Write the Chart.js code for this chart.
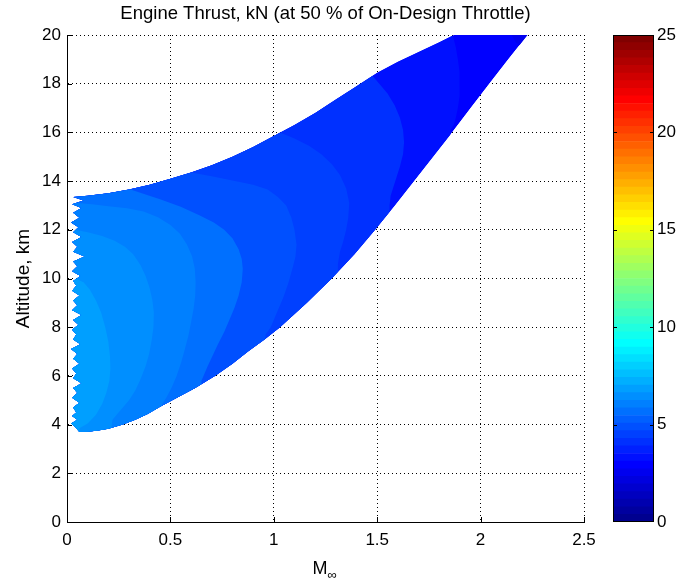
<!DOCTYPE html>
<html>
<head>
<meta charset="utf-8">
<title>Engine Thrust</title>
<script src="https://cdn.jsdelivr.net/npm/chart.js@4.4.0/dist/chart.umd.min.js"></script>
<style>
  html, body { margin: 0; padding: 0; background: #fff; }
  #wrap { position: relative; width: 681px; height: 581px; overflow: hidden; }
  #thrustChart { position: absolute; left: 0; top: 0; }
  #barChart { position: absolute; left: 590px; top: 0; }
</style>
</head>
<body>
<div id="wrap">
  <canvas id="thrustChart" width="681" height="581"></canvas>
  <canvas id="barChart" width="91" height="581"></canvas>
</div>
<script>
// Axis ticks
const machTicks = [0, 0.5, 1, 1.5, 2, 2.5];
const altTicks = [0, 2, 4, 6, 8, 10, 12, 14, 16, 18, 20];
const thrustTicks = [0, 5, 10, 15, 20, 25];

// Contour levels (kN) of the filled bands, innermost first
const bandLevels = [7.0, 6.5, 6.0, 5.5, 5.0, 4.5, 4.0, 3.5];
const baseLevel = 3.0;   // right-hand part of the envelope
const tipLevel = 2.5;    // small corner at the top right

// Flight envelope: upper edge (left to right)
const envTopMach = [0.03, 0.1, 0.2, 0.3, 0.4, 0.5, 0.6, 0.7, 0.8, 0.9, 1.0, 1.1, 1.2, 1.3, 1.4, 1.5, 1.6, 1.7, 1.8, 1.87, 2.227];
const envTopAlt  = [13.35, 13.4, 13.5, 13.65, 13.85, 14.1, 14.35, 14.65, 15.0, 15.4, 15.85, 16.3, 16.8, 17.35, 17.9, 18.45, 18.9, 19.3, 19.7, 20.0, 20.0];
// lower edge (right to left)
const envLowMach = [2.134, 2.042, 1.952, 1.862, 1.77, 1.678, 1.585, 1.49, 1.39, 1.28, 1.16, 1.03, 0.955, 0.875, 0.8, 0.715, 0.62, 0.52, 0.45, 0.39, 0.33, 0.27, 0.2, 0.15, 0.1, 0.06];
const envLowAlt  = [19.0, 18.0, 17.0, 16.0, 15.0, 14.0, 13.0, 12.0, 11.0, 10.0, 9.0, 8.0, 7.5, 7.0, 6.5, 6.0, 5.5, 5.05, 4.73, 4.44, 4.2, 4.0, 3.83, 3.755, 3.71, 3.7];
// ragged low-speed edge (bottom to top)
const envLeftMach = [0.04, 0.02, 0.05, 0.025, 0.045, 0.03, 0.06, 0.025, 0.05, 0.03,
                     0.07, 0.03, 0.045, 0.025, 0.06, 0.03, 0.05, 0.02, 0.065, 0.03,
                     0.045, 0.025, 0.055, 0.03, 0.07, 0.025, 0.05, 0.03, 0.06, 0.025,
                     0.045, 0.03, 0.065, 0.025, 0.05, 0.03, 0.085, 0.03, 0.05, 0.025,
                     0.07, 0.03, 0.055, 0.02, 0.06, 0.03, 0.07, 0.025, 0.08];
const envLeftAlt  = [3.9, 4.05, 4.2, 4.35, 4.5, 4.7, 4.9, 5.1, 5.3, 5.5,
                     5.7, 5.9, 6.1, 6.3, 6.5, 6.7, 6.9, 7.1, 7.3, 7.5,
                     7.7, 7.9, 8.1, 8.3, 8.5, 8.7, 8.9, 9.1, 9.3, 9.5,
                     9.7, 9.9, 10.1, 10.3, 10.5, 10.7, 10.9, 11.1, 11.3, 11.5,
                     11.7, 11.9, 12.1, 12.3, 12.5, 12.7, 12.9, 13.05, 13.2];

// Contour lines, top end to bottom end
const c1Mach = [-0.1, 0.04, 0.08, 0.11, 0.14, 0.165, 0.185, 0.2, 0.208, 0.21, 0.205, 0.19, 0.17, 0.14, 0.1, 0.06, 0.05];
const c1Alt  = [10.0, 10.0, 9.85, 9.55, 9.1, 8.6, 8.0, 7.4, 6.8, 6.3, 5.8, 5.3, 4.85, 4.4, 4.05, 3.85, 3.0];
const c2Mach = [-0.1, 0.04, 0.1, 0.17, 0.23, 0.28, 0.32, 0.355, 0.38, 0.4, 0.413, 0.42, 0.418, 0.41, 0.397, 0.38, 0.355, 0.33, 0.3, 0.27, 0.24, 0.22, 0.2];
const c2Alt  = [12.0, 12.0, 11.9, 11.75, 11.55, 11.3, 11.0, 10.55, 10.1, 9.6, 9.1, 8.6, 8.0, 7.5, 6.9, 6.4, 5.85, 5.4, 5.0, 4.7, 4.4, 4.2, 3.0];
const c3Mach = [-0.1, 0.05, 0.12, 0.2, 0.29, 0.37, 0.44, 0.5, 0.545, 0.58, 0.605, 0.618, 0.622, 0.62, 0.612, 0.6, 0.587, 0.57, 0.552, 0.53, 0.505, 0.48, 0.46, 0.46];
const c3Alt  = [13.1, 13.1, 13.05, 12.97, 12.88, 12.75, 12.52, 12.2, 11.85, 11.4, 10.9, 10.4, 9.85, 9.3, 8.75, 8.2, 7.65, 7.1, 6.55, 6.0, 5.5, 5.1, 4.85, 3.0];
const c4Mach = [0.28, 0.3, 0.38, 0.45, 0.55, 0.64, 0.71, 0.76, 0.8, 0.83, 0.845, 0.85, 0.845, 0.83, 0.81, 0.785, 0.76, 0.73, 0.705, 0.68, 0.66, 0.65, 0.65];
const c4Alt  = [15.0, 13.68, 13.45, 13.25, 12.95, 12.6, 12.3, 12.0, 11.65, 11.2, 10.8, 10.4, 9.85, 9.3, 8.8, 8.3, 7.8, 7.3, 6.85, 6.4, 6.0, 5.8, 3.0];
const c5Mach = [0.6, 0.6, 0.7, 0.8, 0.9, 0.97, 1.02, 1.06, 1.085, 1.1, 1.11, 1.105, 1.09, 1.07, 1.045, 1.015, 0.985, 0.96, 0.96];
const c5Alt  = [16.0, 14.35, 14.2, 14.02, 13.85, 13.65, 13.35, 13.0, 12.5, 12.0, 11.4, 10.9, 10.4, 9.8, 9.2, 8.6, 8.0, 7.7, 3.0];
const c6Mach = [1.03, 1.03, 1.1, 1.17, 1.23, 1.28, 1.32, 1.35, 1.365, 1.36, 1.35, 1.335, 1.32, 1.31, 1.31];
const c6Alt  = [17.0, 16.0, 15.75, 15.45, 15.1, 14.7, 14.25, 13.7, 13.1, 12.5, 12.0, 11.5, 11.1, 10.6, 3.0];
const c7Mach = [1.46, 1.47, 1.51, 1.55, 1.585, 1.61, 1.625, 1.63, 1.625, 1.61, 1.595, 1.58, 1.565, 1.56, 1.56];
const c7Alt  = [19.5, 18.4, 18.0, 17.6, 17.1, 16.6, 16.1, 15.6, 15.1, 14.6, 14.2, 13.8, 13.4, 13.0, 3.0];
const c8Mach = [1.86, 1.865, 1.88, 1.89, 1.898, 1.9, 1.897, 1.89, 1.88, 1.87, 1.855, 1.855];
const c8Alt  = [21.0, 20.0, 19.5, 19.0, 18.5, 18.1, 17.5, 17.0, 16.6, 16.3, 16.1, 3.0];
// lowest-thrust corner
const tipMach = [2.14, 2.15, 2.17, 2.2, 3.0, 3.0];
const tipAlt  = [21.0, 20.0, 19.7, 19.5, 19.5, 21.0];

const contourMach = [c1Mach, c2Mach, c3Mach, c4Mach, c5Mach, c6Mach, c7Mach, c8Mach];
const contourAlt = [c1Alt, c2Alt, c3Alt, c4Alt, c5Alt, c6Alt, c7Alt, c8Alt];

const FONT = 'Liberation Sans';
Chart.defaults.font.family = FONT;
Chart.defaults.font.size = 17;
Chart.defaults.color = '#000';

// 64-entry jet colour map, as used for the colour axis 0..25 kN
function jetU(k) {
    if (k < 1 || k > 47) return 0;
    if (k <= 16) return k / 16;
    if (k <= 31) return 1;
    return (48 - k) / 16;
}
function jetRow(i) { // i = 1..64
    const r = Math.round(jetU(i - 24) * 255);
    const g = Math.round(jetU(i - 8) * 255);
    const b = Math.round(jetU(i + 8) * 255);
    return `rgb(${r},${g},${b})`;
}
function jetColor(v) {
    const i = Math.min(64, Math.max(1, Math.floor(v / 25 * 64) + 1));
    return jetRow(i);
}

function toPoints(mach, alt) {
    return mach.map((m, i) => ({ x: m, y: alt[i] }));
}
// region on the low-Mach side of a contour line
function leftRegion(mach, alt) {
    const pts = toPoints(mach, alt);
    pts.push({ x: mach[mach.length - 1], y: -1 }, { x: -1, y: -1 }, { x: -1, y: 21 }, { x: mach[0], y: 21 });
    return pts;
}

function bandDataset(points, level) {
    const color = jetColor(level);
    return {
        data: points,
        showLine: true,
        fill: 'shape',
        backgroundColor: color,
        borderColor: 'rgba(0,0,0,0)',
        borderWidth: 0,
        pointRadius: 0,
        tension: 0
    };
}

const envMach = envTopMach.concat(envLowMach, envLeftMach);
const envAlt = envTopAlt.concat(envLowAlt, envLeftAlt);

// innermost band first so it is painted last
const datasets = bandLevels.map((lvl, k) => bandDataset(leftRegion(contourMach[k], contourAlt[k]), lvl));
datasets.push(bandDataset(toPoints(tipMach, tipAlt), tipLevel));
datasets.push(bandDataset(toPoints(envMach, envAlt), baseLevel));

// keep the bands inside the flight envelope
const envelopeClip = {
    id: 'envelopeClip',
    beforeDatasetsDraw(chart) {
        const { ctx, scales: { x, y } } = chart;
        ctx.save();
        ctx.beginPath();
        envMach.forEach((m, i) => {
            const px = x.getPixelForValue(m);
            const py = y.getPixelForValue(envAlt[i]);
            if (i === 0) ctx.moveTo(px, py); else ctx.lineTo(px, py);
        });
        ctx.closePath();
        ctx.clip();
    },
    afterDatasetsDraw(chart) {
        chart.ctx.restore();
    }
};

// inward tick marks and the M-infinity label
const axisDecor = {
    id: 'axisDecor',
    afterDraw(chart) {
        const { ctx, scales: { x, y }, chartArea: a } = chart;
        ctx.save();
        ctx.strokeStyle = '#000';
        ctx.lineWidth = 1;
        ctx.beginPath();
        altTicks.forEach(v => {
            const py = Math.round(y.getPixelForValue(v)) + 0.5;
            ctx.moveTo(a.left, py);
            ctx.lineTo(a.left + 5, py);
        });
        machTicks.forEach(v => {
            const px = Math.round(x.getPixelForValue(v)) + 0.5;
            ctx.moveTo(px, a.bottom);
            ctx.lineTo(px, a.bottom - 5);
        });
        ctx.stroke();

        const cx = (a.left + a.right) / 2;
        ctx.fillStyle = '#000';
        ctx.textBaseline = 'alphabetic';
        ctx.textAlign = 'right';
        ctx.font = `18px "${FONT}"`;
        ctx.fillText('M', cx + 2, 574);
        ctx.textAlign = 'left';
        ctx.font = `13px "${FONT}"`;
        ctx.fillText('\u221E', cx + 2, 579);
        ctx.restore();
    }
};

new Chart(document.getElementById('thrustChart'), {
    type: 'scatter',
    data: { datasets },
    options: {
        responsive: false,
        animation: false,
        events: [],
        layout: { padding: { left: 0, right: 97, top: 0, bottom: 0 } },
        plugins: { legend: { display: false }, tooltip: { enabled: false } },
        scales: {
            x: {
                type: 'linear',
                min: 0,
                max: 2.5,
                afterBuildTicks: s => { s.ticks = machTicks.map(v => ({ value: v })); },
                afterFit: s => { s.height = 59; },
                ticks: { padding: 8, callback: v => String(v) },
                grid: { color: '#000', drawTicks: false },
                border: { color: '#000', width: 1, dash: [1, 3] }
            },
            xTop: {
                type: 'linear',
                axis: 'x',
                position: 'top',
                afterFit: s => { s.height = 35; },
                ticks: { display: false },
                grid: { display: false },
                border: { display: false },
                title: {
                    display: true,
                    text: 'Engine Thrust, kN (at 50 % of On-Design Throttle)',
                    font: { size: 18.5 },
                    padding: { top: 3, bottom: 0 }
                }
            },
            y: {
                type: 'linear',
                min: 0,
                max: 20,
                afterBuildTicks: s => { s.ticks = altTicks.map(v => ({ value: v })); },
                afterFit: s => { s.width = 67; },
                ticks: { padding: 6 },
                grid: { color: '#000', drawTicks: false },
                border: { color: '#000', width: 1, dash: [1, 3] },
                title: {
                    display: true,
                    text: 'Altitude, km',
                    font: { size: 19 },
                    padding: { top: 12, bottom: 0 }
                }
            }
        }
    },
    plugins: [envelopeClip, axisDecor]
});

// Colour bar: one floating bar per colour-map entry
const barSegments = Array.from({ length: 64 }, (_, i) => ({
    data: [[i * 25 / 64, (i + 1) * 25 / 64]],
    backgroundColor: jetRow(i + 1),
    borderWidth: 0,
    barPercentage: 1,
    categoryPercentage: 1,
    grouped: false
}));

const barFrame = {
    id: 'barFrame',
    afterDraw(chart) {
        const { ctx, chartArea: a, scales: { y } } = chart;
        ctx.save();
        ctx.strokeStyle = '#000';
        ctx.lineWidth = 1;
        ctx.strokeRect(Math.round(a.left) + 0.5, Math.round(a.top) + 0.5,
            Math.round(a.right - a.left) - 1, Math.round(a.bottom - a.top) - 1);
        ctx.beginPath();
        thrustTicks.slice(1, -1).forEach(v => {
            const py = Math.round(y.getPixelForValue(v)) + 0.5;
            ctx.moveTo(a.left, py); ctx.lineTo(a.left + 4, py);
            ctx.moveTo(a.right, py); ctx.lineTo(a.right - 4, py);
        });
        ctx.stroke();
        ctx.restore();
    }
};

new Chart(document.getElementById('barChart'), {
    type: 'bar',
    data: { labels: [''], datasets: barSegments },
    options: {
        responsive: false,
        animation: false,
        events: [],
        layout: { padding: { left: 23, right: 0, top: 35, bottom: 59 } },
        plugins: { legend: { display: false }, tooltip: { enabled: false } },
        scales: {
            x: { display: false },
            y: {
                position: 'right',
                min: 0,
                max: 25,
                afterBuildTicks: s => { s.ticks = thrustTicks.map(v => ({ value: v })); },
                afterFit: s => { s.width = 27; },
                ticks: { padding: 3 },
                grid: { display: false, drawTicks: false },
                border: { display: false }
            }
        }
    },
    plugins: [barFrame]
});
</script>
</body>
</html>
